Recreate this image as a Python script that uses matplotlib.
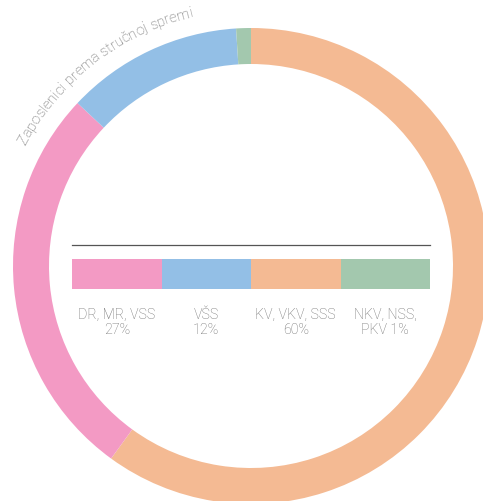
import numpy as np
import matplotlib
matplotlib.use("Agg")
import matplotlib.pyplot as plt
from matplotlib.font_manager import FontProperties

# data
categories = ["DR, MR, VSS", "VŠS", "KV, VKV, SSS", "NKV, NSS, PKV"]
shares = [27, 12, 60, 1]
bar_labels = ["DR, MR, VSS\n27%", "VŠS\n12%", "KV, VKV, SSS\n60%", "NKV, NSS,\nPKV 1%"]
colors = ["#f39ac4", "#93bfe6", "#f4ba93", "#a3c8ae"]
ring_order = [2, 0, 1, 3]  # clockwise from the top
title = "Zaposlenici prema stručnoj spremi"

W, H = 483, 501
fig = plt.figure(figsize=(W / 100, H / 100), dpi=100)
ax = fig.add_axes([0, 0, 1, 1])

# ring
cx, cy = 251, H - 266
R, ring_w = 238, 36
ax.pie([shares[i] for i in ring_order], colors=[colors[i] for i in ring_order],
       startangle=90, counterclock=False, radius=R, center=(cx, cy),
       wedgeprops=dict(width=ring_w, linewidth=0))

# inner legend strip
x0, x1 = 72, 430
bar_top, bar_bot = H - 259, H - 289
seg = (x1 - x0) / len(categories)
xs = x0 + seg * (np.arange(len(categories)) + 0.5)
ax.bar(xs, bar_top - bar_bot, width=seg, bottom=bar_bot, color=colors, linewidth=0)
ax.plot([x0, x1], [H - 245, H - 245], color="#555555", lw=0.9)

lab_font = FontProperties(family="Roboto", weight="light", size=10.3)
for x, lab in zip(xs, bar_labels):
    ax.text(x, H - 308, lab, ha="center", va="top", color="#6e6e6e",
            fontproperties=lab_font, linespacing=1.05)

# curved title along the ring
tfont = FontProperties(family="Roboto", weight="light", size=10.5)
fig.canvas.draw()
rend = fig.canvas.get_renderer()


def tw(s):
    w_bar = rend.get_text_width_height_descent("|", tfont, ismath=False)[0]
    return rend.get_text_width_height_descent(s + "|", tfont, ismath=False)[0] - w_bar


r_txt = 256
a0 = np.radians(152.0)
for i, ch in enumerate(title):
    s = tw(title[:i]) + tw(ch) / 2
    a = a0 - s / r_txt
    ax.text(cx + r_txt * np.cos(a), cy + r_txt * np.sin(a), ch,
            rotation=np.degrees(a) - 90, rotation_mode="anchor",
            ha="center", va="baseline", color="#666666", fontproperties=tfont)

ax.set_xlim(0, W)
ax.set_ylim(0, H)
ax.set_aspect("auto")
ax.axis("off")
fig.savefig("out.png", dpi=100)
